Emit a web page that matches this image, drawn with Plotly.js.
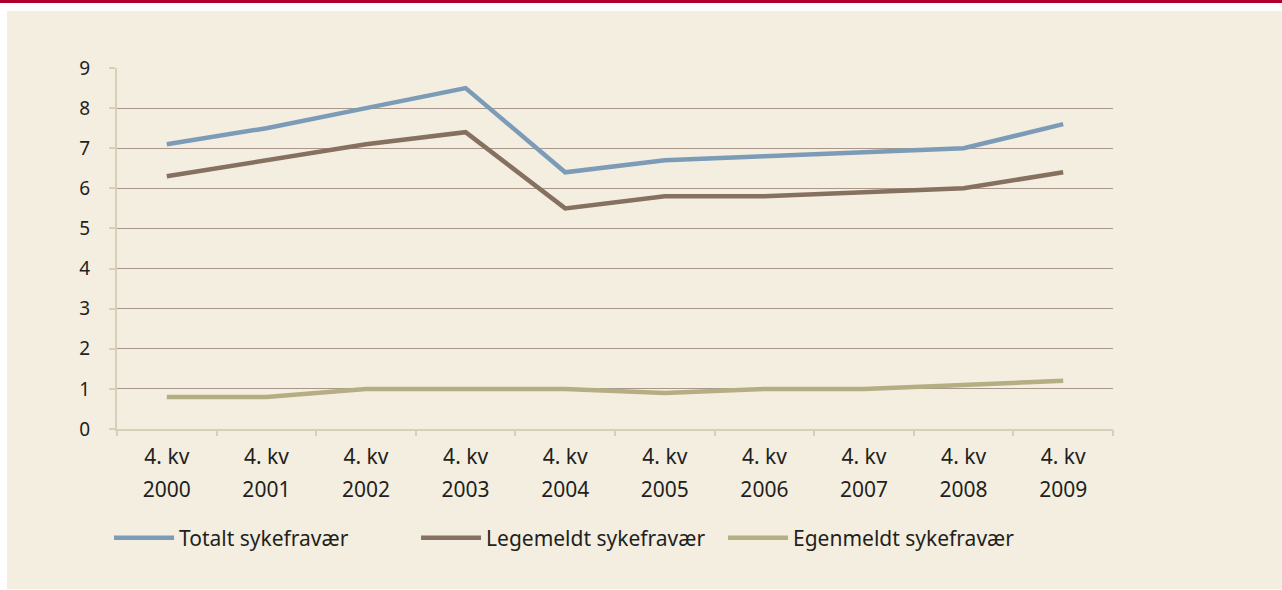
<!DOCTYPE html>
<html>
<head>
<meta charset="utf-8">
<script src="https://cdn.plot.ly/plotly-3.0.1.min.js"></script>
<style>
  html, body { margin: 0; padding: 0; background: #ffffff; }
  #bar { position: absolute; left: 0; top: 0; width: 1282px; height: 3px; background: #b0002e; }
  #chart { position: absolute; left: 7px; top: 11px; width: 1275px; height: 578px; }
</style>
</head>
<body>
<div id="bar"></div>
<div id="chart"></div>
<script>
const quarters = ["4. kv", "4. kv", "4. kv", "4. kv", "4. kv", "4. kv", "4. kv", "4. kv", "4. kv", "4. kv"];
const years = ["2000", "2001", "2002", "2003", "2004", "2005", "2006", "2007", "2008", "2009"];
const totalt = [7.1, 7.5, 8.0, 8.5, 6.4, 6.7, 6.8, 6.9, 7.0, 7.6];
const legemeldt = [6.3, 6.7, 7.1, 7.4, 5.5, 5.8, 5.8, 5.9, 6.0, 6.4];
const egenmeldt = [0.8, 0.8, 1.0, 1.0, 1.0, 0.9, 1.0, 1.0, 1.1, 1.2];
const seriesNames = ["Totalt sykefravær", "Legemeldt sykefravær", "Egenmeldt sykefravær"];
const yTicks = [0, 1, 2, 3, 4, 5, 6, 7, 8, 9];

const idx = years.map((_, i) => i);
const colors = ["#7b9bb7", "#86705f", "#b5ae83"];
const data = [totalt, legemeldt, egenmeldt].map((ys, k) => ({
  type: "scatter", mode: "lines", x: idx, y: ys, name: seriesNames[k],
  line: { color: colors[k], width: 4.5 }, hoverinfo: "skip"
}));
// invisible helper traces so the overlay axes (year labels, boundary ticks) get drawn
["x2", "x3"].forEach(ax => data.push({
  type: "scatter", mode: "lines", x: idx, y: egenmeldt, xaxis: ax, yaxis: "y",
  line: { width: 0 }, opacity: 0, showlegend: false, hoverinfo: "skip"
}));

const fam = "Noto Sans, Open Sans, DejaVu Sans, sans-serif";
const font = { family: fam, size: 21, color: "#231f20" };
const yfont = { family: fam, size: 19, color: "#231f20" };
const layout = {
  width: 1275, height: 578,
  margin: { l: 110, r: 169, t: 57, b: 160 },
  paper_bgcolor: "#f4eee1", plot_bgcolor: "#f4eee1",
  font: font,
  showlegend: true,
  legend: {
    orientation: "h", x: -0.008, xanchor: "left", y: -0.302, yanchor: "middle",
    bgcolor: "rgba(0,0,0,0)", font: { family: fam, size: 21, color: "#231f20" },
    itemwidth: 60, entrywidthmode: "pixels", entrywidth: 232
  },
  xaxis: {
    type: "linear", range: [-0.5, 9.5], fixedrange: true,
    tickmode: "array", tickvals: idx, ticktext: quarters, tickfont: font,
    ticks: "", showgrid: false, zeroline: false,
    showline: true, linecolor: "#d8cfb9", linewidth: 2,
    ticklabelstandoff: 8
  },
  xaxis2: {
    type: "linear", range: [-0.5, 9.5], overlaying: "x", anchor: "y", side: "bottom",
    tickmode: "array", tickvals: idx, ticktext: years, tickfont: font,
    ticks: "", showgrid: false, zeroline: false, showline: false,
    ticklabelstandoff: 46
  },
  xaxis3: {
    type: "linear", range: [-0.5, 9.5], overlaying: "x", anchor: "y", side: "bottom",
    tickmode: "array", tickvals: idx.concat([idx.length]).map(v => v - 0.5), ticktext: idx.concat([idx.length]).map(() => ""),
    ticks: "outside", ticklen: 6, tickwidth: 2, tickcolor: "#d8cfb9",
    showgrid: false, zeroline: false, showline: false, showticklabels: false
  },
  yaxis: {
    range: [0, 9], fixedrange: true,
    tickmode: "array", tickvals: yTicks, tickfont: yfont,
    ticks: "outside", ticklen: 6, tickwidth: 2, tickcolor: "#d8cfb9",
    showgrid: true, gridcolor: "#a8978a", gridwidth: 1,
    zeroline: false, showline: true, linecolor: "#d8cfb9", linewidth: 2,
    ticklabelstandoff: 15
  }
};

Plotly.newPlot("chart", data, layout, { staticPlot: true, displayModeBar: false });
</script>
</body>
</html>
